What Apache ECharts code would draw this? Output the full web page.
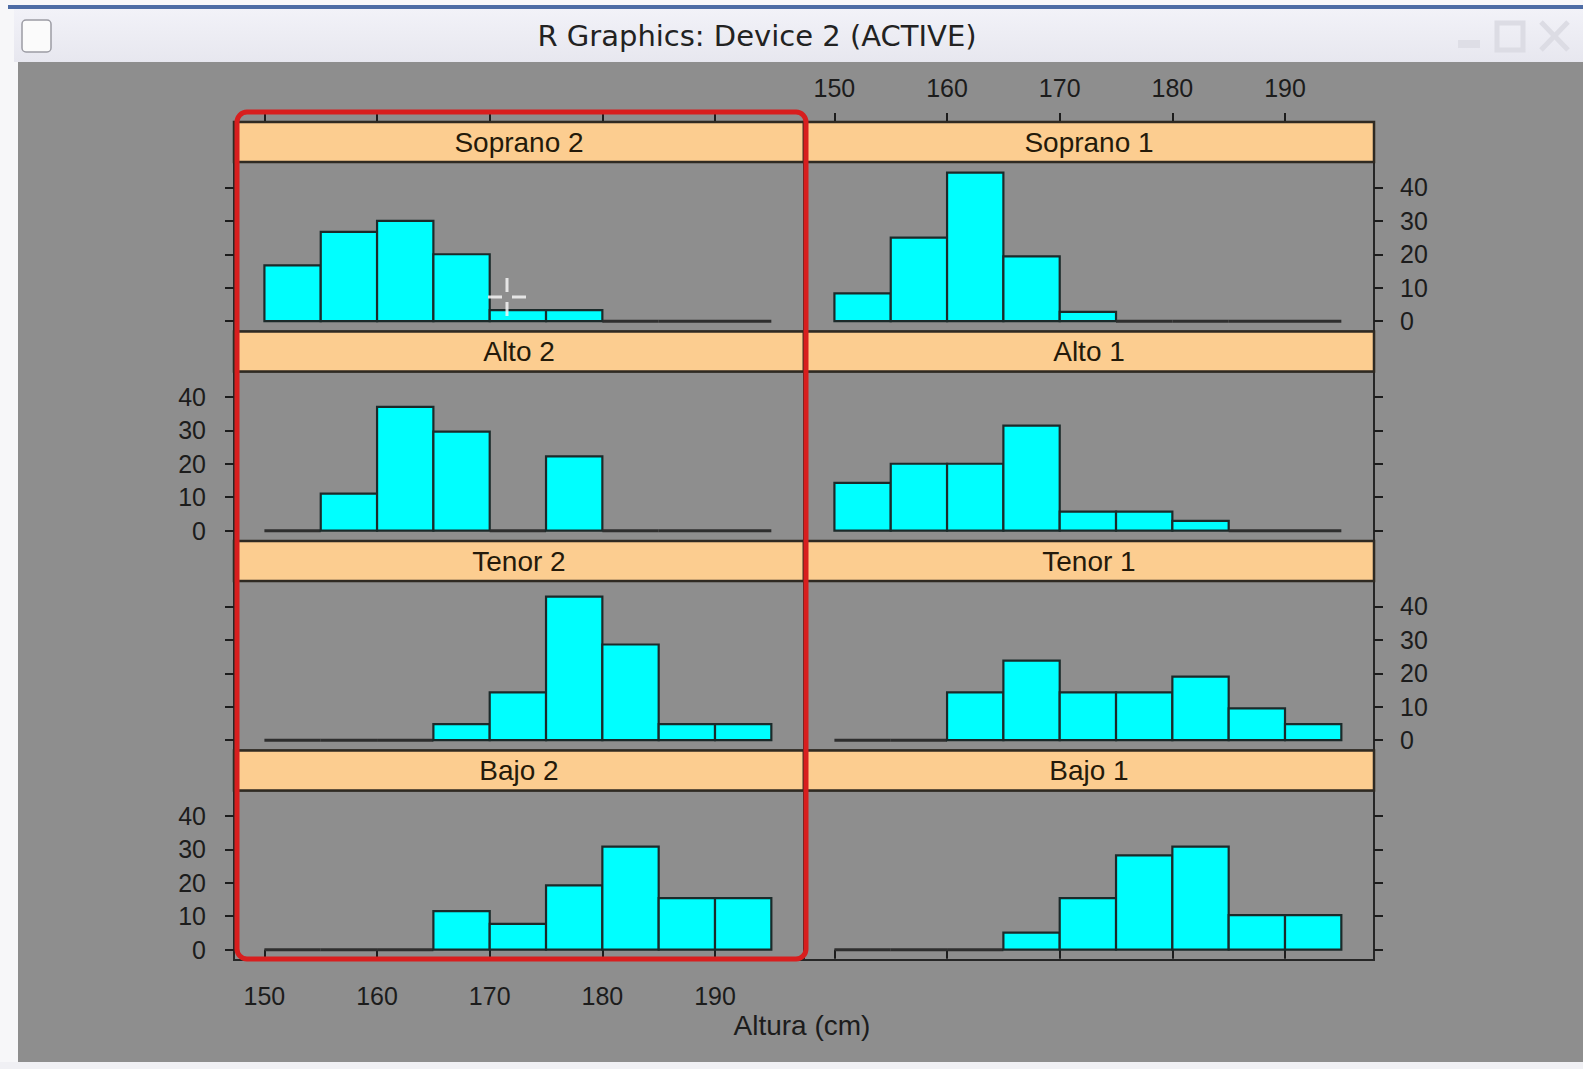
<!DOCTYPE html>
<html>
<head>
<meta charset="utf-8">
<script src="https://cdn.jsdelivr.net/npm/echarts@6/dist/echarts.min.js"></script>
<style>
html,body{margin:0;padding:0;background:#f7f7f9;}
#chart{width:1583px;height:1069px;}
</style>
</head>
<body>
<div id="chart"></div>
<script>
// ---------------- data ----------------
const binEdges = [150, 155, 160, 165, 170, 175, 180, 185, 190, 195];
const panelNames = ['Soprano 2', 'Alto 2', 'Tenor 2', 'Bajo 2', 'Soprano 1', 'Alto 1', 'Tenor 1', 'Bajo 1'];
const soprano2 = [16.7, 26.7, 30.0, 20.0, 3.3, 3.3, 0, 0, 0];
const alto2    = [0, 11.1, 37.0, 29.6, 0, 22.2, 0, 0, 0];
const tenor2   = [0, 0, 0, 4.8, 14.3, 42.9, 28.6, 4.8, 4.8];
const bajo2    = [0, 0, 0, 11.5, 7.7, 19.2, 30.8, 15.4, 15.4];
const soprano1 = [8.3, 25.0, 44.4, 19.4, 2.8, 0, 0, 0, 0];
const alto1    = [14.3, 20.0, 20.0, 31.4, 5.7, 5.7, 2.9, 0, 0];
const tenor1   = [0, 0, 14.3, 23.8, 14.3, 14.3, 19.0, 9.5, 4.8];
const bajo1    = [0, 0, 0, 5.1, 15.4, 28.2, 30.8, 10.3, 10.3];
const xTicks = [150, 160, 170, 180, 190];
const yTicks = [0, 10, 20, 30, 40];
const xTitle = 'Altura (cm)';
const windowTitle = 'R Graphics: Device 2 (ACTIVE)';

const panelValues = [soprano2, alto2, tenor2, bajo2, soprano1, alto1, tenor1, bajo1];

// ---------------- layout ----------------
const COL_LEFT = [234, 804];
const COL_W = 570;
const ROW_TOP = [122, 331.5, 541, 750.5];
const STRIP_H = 40;
const PLOT_H = 169.5;
const X_MIN = 147.3, X_MAX = 197.9;
const Y_MIN = -3.1, Y_MAX = 47.6;
const FONT = 'Liberation Sans';
const INK = '#1c1c1c';

const grids = [], xAxes = [], yAxes = [], series = [], graphics = [];

function renderBar(params, api) {
  const v = api.value(2);
  const a = api.coord([api.value(0), 0]);
  const b = api.coord([api.value(1), v]);
  if (v <= 0) {
    return {type: 'line', shape: {x1: a[0], y1: a[1], x2: b[0], y2: a[1]},
            style: {stroke: '#2e2e2e', lineWidth: 3}};
  }
  return {type: 'rect',
          shape: {x: a[0], y: b[1], width: b[0] - a[0], height: a[1] - b[1]},
          style: {fill: '#00ffff', stroke: '#1b2a2a', lineWidth: 2.2}};
}

const tickStyle = {show: true, inside: false, length: 9, lineStyle: {color: INK, width: 2}};
const labelStyle = {fontFamily: FONT, fontSize: 25, color: INK};

panelNames.forEach((name, i) => {
  const c = i < 4 ? 0 : 1;
  const r = i % 4;
  const left = COL_LEFT[c];
  const top = ROW_TOP[r] + STRIP_H;
  const gi = grids.length;
  grids.push({left: left, top: top, width: COL_W, height: PLOT_H, show: true,
              backgroundColor: 'transparent', borderColor: '#262626', borderWidth: 2});

  const xi = xAxes.length;
  xAxes.push({
    type: 'value', gridIndex: gi, min: X_MIN, max: X_MAX, position: 'bottom',
    show: r === 3,
    axisLine: {show: false}, splitLine: {show: false},
    axisTick: Object.assign({customValues: xTicks}, tickStyle),
    axisLabel: Object.assign({show: c === 0, customValues: xTicks, margin: 23}, labelStyle)
  });
  if (r === 0) {
    xAxes.push({
      type: 'value', gridIndex: gi, min: X_MIN, max: X_MAX, position: 'top', offset: STRIP_H,
      axisLine: {show: false}, splitLine: {show: false},
      axisTick: Object.assign({customValues: xTicks}, tickStyle),
      axisLabel: Object.assign({show: c === 1, customValues: xTicks, margin: 22}, labelStyle)
    });
  }
  const yi = yAxes.length;
  const showLab = c === 0 ? (r === 1 || r === 3) : (r === 0 || r === 2);
  yAxes.push({
    type: 'value', gridIndex: gi, min: Y_MIN, max: Y_MAX,
    position: c === 0 ? 'left' : 'right',
    axisLine: {show: false}, splitLine: {show: false},
    axisTick: Object.assign({customValues: yTicks}, tickStyle),
    axisLabel: Object.assign({show: showLab, customValues: yTicks, margin: c === 0 ? 28 : 26}, labelStyle)
  });

  const vals = panelValues[i];
  const data = vals.map((v, k) => [binEdges[k], binEdges[k + 1], v]);
  series.push({
    type: 'custom', name: name, xAxisIndex: xi, yAxisIndex: yi,
    renderItem: renderBar, data: data, encode: {x: [0, 1], y: 2}, z: 3, silent: true
  });

  graphics.push({type: 'rect', z: 10,
    shape: {x: left, y: ROW_TOP[r], width: COL_W, height: STRIP_H},
    style: {fill: '#fccd90', stroke: '#2f2a22', lineWidth: 2.5}});
  graphics.push({type: 'text', z: 11, x: left + COL_W / 2, y: ROW_TOP[r] + STRIP_H / 2,
    style: {text: name, fontFamily: FONT, fontSize: 28, fill: '#241a0a',
            align: 'center', verticalAlign: 'middle'}});
});

// window chrome
graphics.push({type: 'rect', z: 20, shape: {x: 0, y: 0, width: 1583, height: 62}, style: {fill: '#f7f7f9'}});
graphics.push({type: 'rect', z: 21, shape: {x: 8, y: 5, width: 1575, height: 4}, style: {fill: '#4d6ca5'}});
graphics.push({type: 'rect', z: 21, shape: {x: 14, y: 9, width: 1569, height: 53},
  style: {fill: new echarts.graphic.LinearGradient(0, 0, 0, 1, [{offset: 0, color: '#f2f2f8'}, {offset: 1, color: '#e7e7ef'}])}});
graphics.push({type: 'rect', z: 20, shape: {x: 0, y: 62, width: 18, height: 1007}, style: {fill: '#f7f7f9'}});
graphics.push({type: 'rect', z: 20, shape: {x: 0, y: 1062, width: 1583, height: 7}, style: {fill: '#f0f0f4'}});
graphics.push({type: 'rect', z: 22, shape: {x: 22, y: 20, width: 29, height: 32, r: 4},
  style: {fill: '#fbfbfb', stroke: '#9c9ca4', lineWidth: 1.5}});
graphics.push({type: 'text', z: 22, x: 757, y: 36,
  style: {text: windowTitle, fontFamily: 'DejaVu Sans', fontSize: 29, fill: '#222222',
          align: 'center', verticalAlign: 'middle'}});
graphics.push({type: 'rect', z: 22, shape: {x: 1458, y: 40, width: 22, height: 8}, style: {fill: '#dedee6'}});
graphics.push({type: 'rect', z: 22, shape: {x: 1497, y: 23, width: 26, height: 27},
  style: {fill: 'none', stroke: '#dcdce4', lineWidth: 5}});
graphics.push({type: 'line', z: 22, shape: {x1: 1541, y1: 22, x2: 1568, y2: 50}, style: {stroke: '#dcdce4', lineWidth: 5}});
graphics.push({type: 'line', z: 22, shape: {x1: 1568, y1: 22, x2: 1541, y2: 50}, style: {stroke: '#dcdce4', lineWidth: 5}});

// x axis title
graphics.push({type: 'text', z: 12, x: 802, y: 1025,
  style: {text: xTitle, fontFamily: FONT, fontSize: 28, fill: INK, align: 'center', verticalAlign: 'middle'}});

// red highlight rectangle
graphics.push({type: 'rect', z: 50, shape: {x: 237, y: 112, width: 569, height: 847, r: 10},
  style: {fill: 'none', stroke: '#d81e1e', lineWidth: 5}});

// mouse cursor crosshair
graphics.push({type: 'line', z: 51, shape: {x1: 488, y1: 297, x2: 502, y2: 297}, style: {stroke: '#f4f4f4', lineWidth: 3, opacity: 0.85}});
graphics.push({type: 'line', z: 51, shape: {x1: 512, y1: 297, x2: 526, y2: 297}, style: {stroke: '#f4f4f4', lineWidth: 3, opacity: 0.85}});
graphics.push({type: 'line', z: 51, shape: {x1: 507, y1: 278, x2: 507, y2: 292}, style: {stroke: '#f4f4f4', lineWidth: 3, opacity: 0.85}});
graphics.push({type: 'line', z: 51, shape: {x1: 507, y1: 302, x2: 507, y2: 316}, style: {stroke: '#f4f4f4', lineWidth: 3, opacity: 0.85}});

const chart = echarts.init(document.getElementById('chart'), null, {renderer: 'svg', width: 1583, height: 1069});
chart.setOption({
  backgroundColor: '#8e8e8e',
  animation: false,
  grid: grids,
  xAxis: xAxes,
  yAxis: yAxes,
  series: series,
  graphic: {elements: graphics}
});
</script>
</body>
</html>
